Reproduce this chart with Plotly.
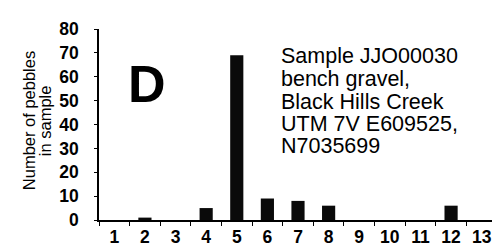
import plotly.graph_objects as go

categories = ["1", "2", "3", "4", "5", "6", "7", "8", "9", "10", "11", "12", "13"]
pebble_counts = [0, 1, 0, 5, 69, 9, 8, 6, 0, 0, 0, 6, 0]
y_ticks = [0, 10, 20, 30, 40, 50, 60, 70, 80]
panel_label = "D"
sample_lines = ["Sample JJO00030", "bench gravel,", "Black Hills Creek",
                "UTM 7V E609525,", "N7035699"]
y_title_lines = ["Number of pebbles", "in sample"]

L, R, T, B = 91, 11, 21, 26
W, H = 500, 250
PW, PH = W - L - R, H - T - B


def px_x(x):
    return (x - L) / PW


def px_y(y):
    return (H - B - y) / PH


fig = go.Figure(go.Bar(x=categories, y=pebble_counts, marker_color="#0a0a0a",
                       marker_line_width=0))

fig.update_layout(
    width=W, height=H,
    margin=dict(l=L, r=R, t=T, b=B),
    plot_bgcolor="white", paper_bgcolor="white",
    bargap=0.57,
    showlegend=False,
    font=dict(family="Liberation Sans, Arial", color="black"),
)
fig.update_xaxes(type="category", range=[-0.5, 12.5], showline=True, linecolor="black",
                 linewidth=1.5, ticks="outside", tickson="boundaries", ticklen=4,
                 tickcolor="black", showgrid=False, zeroline=False,
                 tickfont=dict(size=17.5, weight="bold"))
fig.update_yaxes(range=[0, 80], tickvals=y_ticks, showline=True, linecolor="black",
                 linewidth=1.5, ticks="outside", ticklen=3, tickcolor="black",
                 showgrid=False, zeroline=False, ticklabelstandoff=12,
                 tickfont=dict(size=17.5, weight="bold"))

fig.add_annotation(x=px_x(138.5), y=px_y(79), xref="paper", yref="paper", text=panel_label,
                   showarrow=False, font=dict(size=52, weight="bold"),
                   xanchor="center", yanchor="middle", borderpad=0)

line_centers = [50, 74.5, 98.5, 122, 145.5]
for txt, cy in zip(sample_lines, line_centers):
    fig.add_annotation(x=px_x(272), y=px_y(cy), xref="paper", yref="paper",
                       text=txt, showarrow=False, font=dict(size=21.5), align="left",
                       xanchor="left", yanchor="middle", borderpad=0)

for txt, cx in zip(y_title_lines, [21, 37]):
    fig.add_annotation(x=px_x(cx), y=px_y(119), xref="paper", yref="paper",
                       text=txt, showarrow=False, font=dict(size=16.5), textangle=-90,
                       xanchor="center", yanchor="middle", borderpad=0)

fig.write_html("out.html")
